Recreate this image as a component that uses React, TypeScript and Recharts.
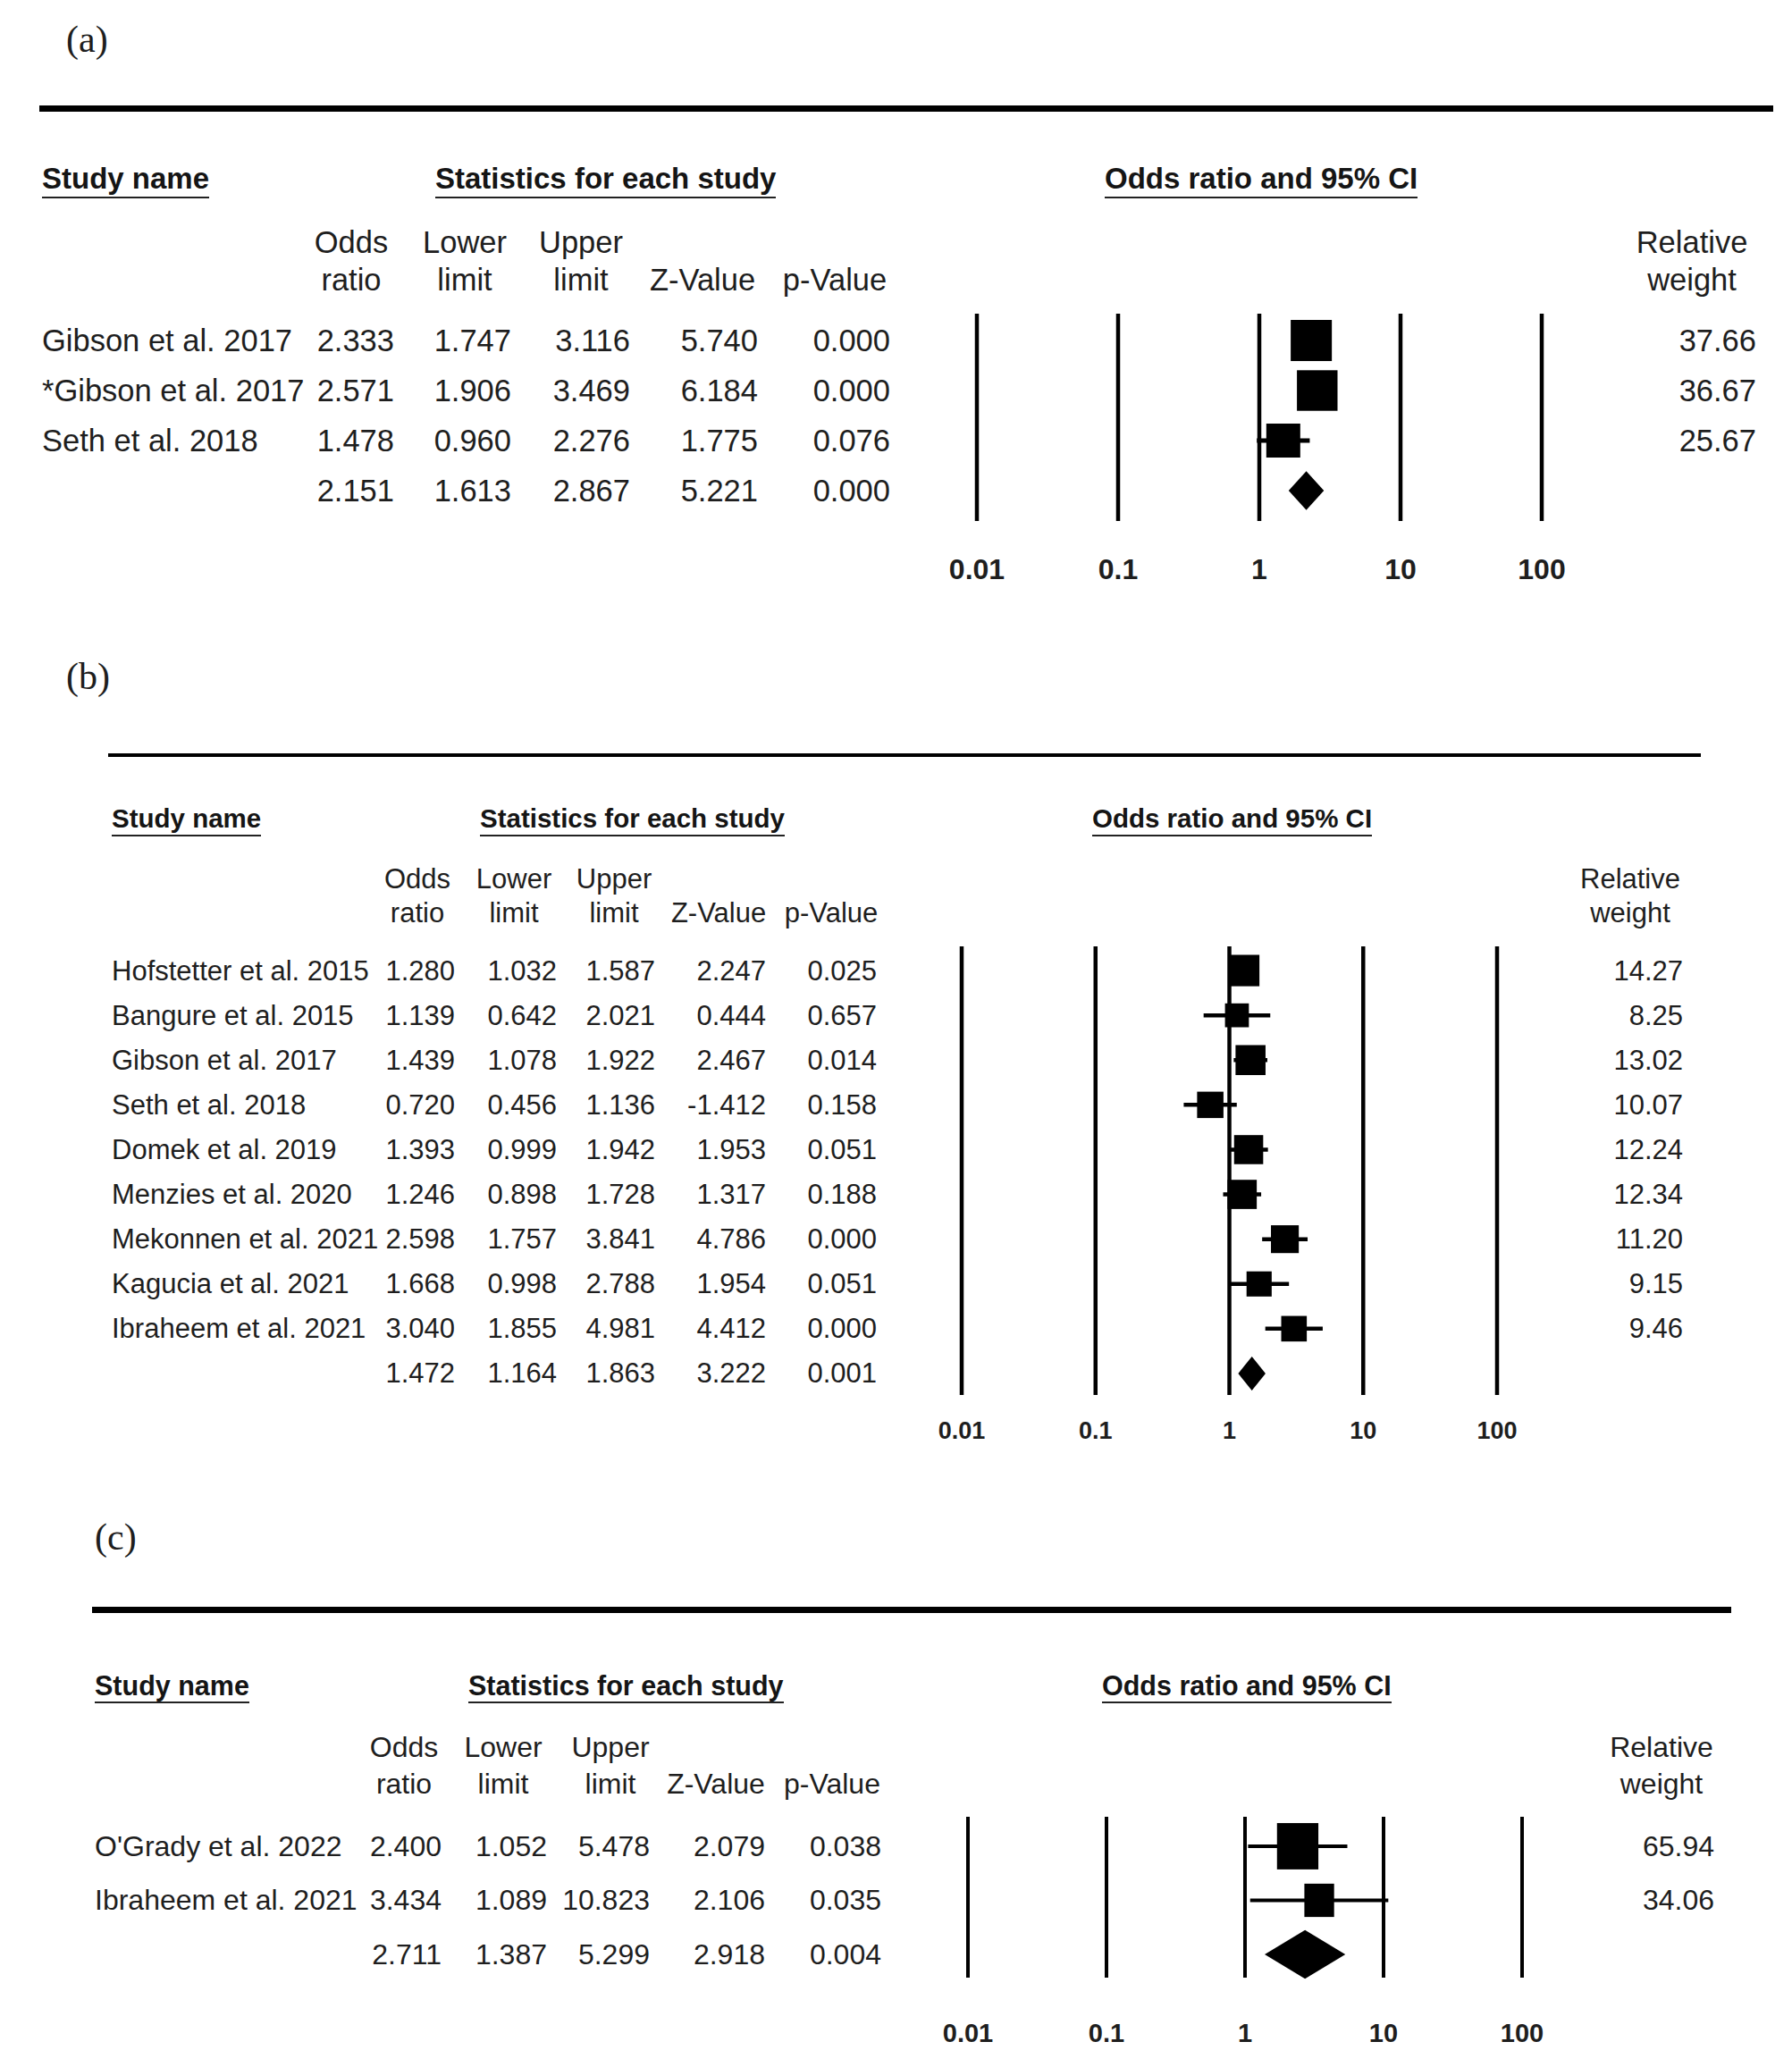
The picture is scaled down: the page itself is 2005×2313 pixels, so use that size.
import React from 'react';
import { ScatterChart, Scatter, XAxis, YAxis, ErrorBar, ReferenceLine, ReferenceArea } from 'recharts';

// ---- panel (a) ----
const namesA = ['Gibson et al. 2017', '*Gibson et al. 2017', 'Seth et al. 2018', ''];
const oddsA = [2.333, 2.571, 1.478, 2.151];
const lowerA = [1.747, 1.906, 0.96, 1.613];
const upperA = [3.116, 3.469, 2.276, 2.867];
const zA = [5.74, 6.184, 1.775, 5.221];
const pA = [0.0, 0.0, 0.076, 0.0];
const weightsA = [37.66, 36.67, 25.67];

// ---- panel (b) ----
const namesB = [
  'Hofstetter et al. 2015',
  'Bangure et al. 2015',
  'Gibson et al. 2017',
  'Seth et al. 2018',
  'Domek et al. 2019',
  'Menzies et al. 2020',
  'Mekonnen et al. 2021',
  'Kagucia et al. 2021',
  'Ibraheem et al. 2021',
  '',
];
const oddsB = [1.28, 1.139, 1.439, 0.72, 1.393, 1.246, 2.598, 1.668, 3.04, 1.472];
const lowerB = [1.032, 0.642, 1.078, 0.456, 0.999, 0.898, 1.757, 0.998, 1.855, 1.164];
const upperB = [1.587, 2.021, 1.922, 1.136, 1.942, 1.728, 3.841, 2.788, 4.981, 1.863];
const zB = [2.247, 0.444, 2.467, -1.412, 1.953, 1.317, 4.786, 1.954, 4.412, 3.222];
const pB = [0.025, 0.657, 0.014, 0.158, 0.051, 0.188, 0.0, 0.051, 0.0, 0.001];
const weightsB = [14.27, 8.25, 13.02, 10.07, 12.24, 12.34, 11.2, 9.15, 9.46];

// ---- panel (c) ----
const namesC = ["O'Grady et al. 2022", 'Ibraheem et al. 2021', ''];
const oddsC = [2.4, 3.434, 2.711];
const lowerC = [1.052, 1.089, 1.387];
const upperC = [5.478, 10.823, 5.299];
const zC = [2.079, 2.106, 2.918];
const pC = [0.038, 0.035, 0.004];
const weightsC = [65.94, 34.06];

// shared labels
const xTicks = [0.01, 0.1, 1, 10, 100];
const colTop = ['Odds', 'Lower', 'Upper', '', ''];
const colBottom = ['ratio', 'limit', 'limit', 'Z-Value', 'p-Value'];
const headers = ['Study name', 'Statistics for each study', 'Odds ratio and 95% CI'];

const FONT = '"Liberation Sans", Arial, sans-serif';
const TXT = '#1e1e1e';

const layoutA = {
  label: '(a)', labelX: 74, labelY: 44, labelSize: 42,
  ruleY: 121, ruleX0: 44, ruleX1: 1984, ruleW: 7,
  headY: 199, headSize: 33, underGap: 22, headX: [47, 487, 1236],
  colY: [271, 313], colCenters: [393, 520, 650, 786, 934], relCenter: 1893,
  rowSize: 34.5, nameX: 47, colRight: [441, 572, 705, 848, 996], weightRight: 1965,
  plotL: 1093, plotR: 1725, plotTop: 351, plotBottom: 583, padTop: 0.536, padBottom: 0.607,
  tickY: 637, tickSize: 32, gridW: 4.5, ciW: 5, sqK: 7.5, sqAspect: 1, diamondHalf: 0.39,
};

const layoutB = {
  label: '(b)', labelX: 74, labelY: 757, labelSize: 42,
  ruleY: 845, ruleX0: 121, ruleX1: 1903, ruleW: 4.5,
  headY: 916, headSize: 29.5, underGap: 19, headX: [125, 537, 1222],
  colY: [983, 1021], colCenters: [467, 575, 687, 804, 930], relCenter: 1824,
  rowSize: 31, nameX: 125, colRight: [509, 623, 733, 857, 981], weightRight: 1883,
  plotL: 1076, plotR: 1675, plotTop: 1059, plotBottom: 1561, padTop: 0.54, padBottom: 0.48,
  tickY: 1601, tickSize: 27, gridW: 4.5, ciW: 4.5, sqK: 9.3, sqAspect: 1, diamondHalf: 0.38,
};

const layoutC = {
  label: '(c)', labelX: 106, labelY: 1720, labelSize: 42,
  ruleY: 1801, ruleX0: 103, ruleX1: 1937, ruleW: 7,
  headY: 1886, headSize: 30.5, underGap: 19, headX: [106, 524, 1233],
  colY: [1955, 1996], colCenters: [452, 563, 683, 801, 931], relCenter: 1859,
  rowSize: 32, nameX: 106, colRight: [494, 612, 727, 856, 986], weightRight: 1918,
  plotL: 1083, plotR: 1703, plotTop: 2033, plotBottom: 2213, padTop: 0.545, padBottom: 0.43,
  tickY: 2275, tickSize: 29, gridW: 4, ciW: 4, sqK: 5.7, sqAspect: 1.12, diamondHalf: 0.45,
};

type Layout = typeof layoutA;
type PanelData = {
  names: string[]; odds: number[]; lower: number[]; upper: number[];
  z: number[]; p: number[]; weights: number[];
};

const panels: { d: PanelData; lay: Layout }[] = [
  { d: { names: namesA, odds: oddsA, lower: lowerA, upper: upperA, z: zA, p: pA, weights: weightsA }, lay: layoutA },
  { d: { names: namesB, odds: oddsB, lower: lowerB, upper: upperB, z: zB, p: pB, weights: weightsB }, lay: layoutB },
  { d: { names: namesC, odds: oddsC, lower: lowerC, upper: upperC, z: zC, p: pC, weights: weightsC }, lay: layoutC },
];

function TextAt({ x, y, size, children, bold, center, serif }: any) {
  return (
    <div
      style={{
        position: 'absolute',
        left: center ? x - 200 : x,
        width: center ? 400 : undefined,
        top: y - size / 2,
        fontSize: size,
        lineHeight: `${size}px`,
        fontFamily: serif ? '"Liberation Serif", serif' : FONT,
        fontWeight: bold ? 700 : 400,
        textAlign: center ? 'center' : 'left',
        color: TXT,
        whiteSpace: 'nowrap',
      }}
    >
      {children}
    </div>
  );
}

function ForestPanel({ d, lay }: { d: PanelData; lay: Layout }) {
  const n = d.names.length;
  const s = n - 1; // pooled row
  const rows = d.names.map((_, i) => i);
  const studies = d.weights.map((w, i) => ({
    x: d.odds[i],
    y: i,
    err: [d.odds[i] - d.lower[i], d.upper[i] - d.odds[i]],
    w,
  }));
  const plotH = lay.plotBottom - lay.plotTop;
  const chartH = lay.tickY - lay.plotTop + 30;

  const rowTick = (props: any) => {
    const { y, payload } = props;
    const i = payload.value;
    const cells = [d.odds[i], d.lower[i], d.upper[i], d.z[i], d.p[i]].map((v) => v.toFixed(3));
    const common = { y, dominantBaseline: 'central', fontFamily: FONT, fontSize: lay.rowSize, fill: TXT };
    return (
      <g>
        <text x={lay.nameX} textAnchor="start" {...common}>{d.names[i]}</text>
        {cells.map((c, k) => (
          <text key={k} x={lay.colRight[k]} textAnchor="end" {...common}>{c}</text>
        ))}
        {i < d.weights.length && (
          <text x={lay.weightRight} textAnchor="end" {...common}>{d.weights[i].toFixed(2)}</text>
        )}
      </g>
    );
  };

  const xTick = (props: any) => (
    <text
      x={props.x}
      y={lay.tickY - lay.plotTop}
      textAnchor="middle"
      dominantBaseline="central"
      fontFamily={FONT}
      fontWeight={700}
      fontSize={lay.tickSize}
      fill={TXT}
    >
      {String(props.payload.value)}
    </text>
  );

  const square = (props: any) => {
    const side = lay.sqK * Math.sqrt(props.payload.w);
    const h = side * lay.sqAspect;
    return <rect x={props.cx - side / 2} y={props.cy - h / 2} width={side} height={h} fill="#000" />;
  };

  const diamond = (props: any) => {
    const { x, y, width, height } = props;
    const pts = `${x},${y + height / 2} ${x + width / 2},${y} ${x + width},${y + height / 2} ${x + width / 2},${y + height}`;
    return <polygon points={pts} fill="#000" />;
  };

  return (
    <>
      <TextAt x={lay.labelX} y={lay.labelY} size={lay.labelSize} serif>{lay.label}</TextAt>
      <div
        style={{
          position: 'absolute',
          left: lay.ruleX0,
          width: lay.ruleX1 - lay.ruleX0,
          top: lay.ruleY - lay.ruleW / 2,
          height: lay.ruleW,
          background: '#000',
        }}
      />
      {headers.map((h, k) => (
        <div
          key={h}
          style={{
            position: 'absolute',
            left: lay.headX[k],
            top: lay.headY - lay.headSize / 2,
            fontSize: lay.headSize,
            lineHeight: `${lay.headSize}px`,
            fontFamily: FONT,
            fontWeight: 700,
            color: '#151515',
            whiteSpace: 'nowrap',
            paddingBottom: lay.underGap - lay.headSize / 2 - 1,
            borderBottom: '2.5px solid #222',
          }}
        >
          {h}
        </div>
      ))}
      {colTop.map((t, k) =>
        t ? <TextAt key={'t' + k} x={lay.colCenters[k]} y={lay.colY[0]} size={lay.rowSize} center>{t}</TextAt> : null,
      )}
      {colBottom.map((t, k) => (
        <TextAt key={'b' + k} x={lay.colCenters[k]} y={lay.colY[1]} size={lay.rowSize} center>{t}</TextAt>
      ))}
      <TextAt x={lay.relCenter} y={lay.colY[0]} size={lay.rowSize} center>Relative</TextAt>
      <TextAt x={lay.relCenter} y={lay.colY[1]} size={lay.rowSize} center>weight</TextAt>

      <div style={{ position: 'absolute', left: 0, top: lay.plotTop }}>
        <ScatterChart
          width={2005}
          height={chartH}
          margin={{ top: 0, right: 2005 - lay.plotR, bottom: 0, left: 0 }}
        >
          <XAxis
            type="number"
            dataKey="x"
            scale="log"
            domain={[0.01, 100]}
            ticks={xTicks}
            interval={0}
            allowDataOverflow
            axisLine={false}
            tickLine={false}
            height={chartH - plotH}
            tick={xTick}
          />
          <YAxis
            type="number"
            dataKey="y"
            reversed
            domain={[-lay.padTop, s + lay.padBottom]}
            ticks={rows}
            interval={0}
            allowDataOverflow
            width={lay.plotL}
            axisLine={false}
            tickLine={false}
            tick={rowTick}
          />
          {xTicks.map((v) => (
            <ReferenceLine key={v} x={v} stroke="#000" strokeWidth={lay.gridW} />
          ))}
          <ReferenceArea
            x1={d.lower[s]}
            x2={d.upper[s]}
            y1={s - lay.diamondHalf}
            y2={s + lay.diamondHalf}
            ifOverflow="visible"
            shape={diamond}
          />
          <Scatter data={studies} isAnimationActive={false} shape={square}>
            <ErrorBar dataKey="err" direction="x" width={0} stroke="#000" strokeWidth={lay.ciW} isAnimationActive={false} />
          </Scatter>
        </ScatterChart>
      </div>
    </>
  );
}

export default function App() {
  return (
    <div style={{ position: 'absolute', left: 0, top: 0, width: 2005, height: 2313, background: '#fff', overflow: 'hidden' }}>
      {panels.map((p, k) => (
        <ForestPanel key={k} d={p.d} lay={p.lay} />
      ))}
    </div>
  );
}
